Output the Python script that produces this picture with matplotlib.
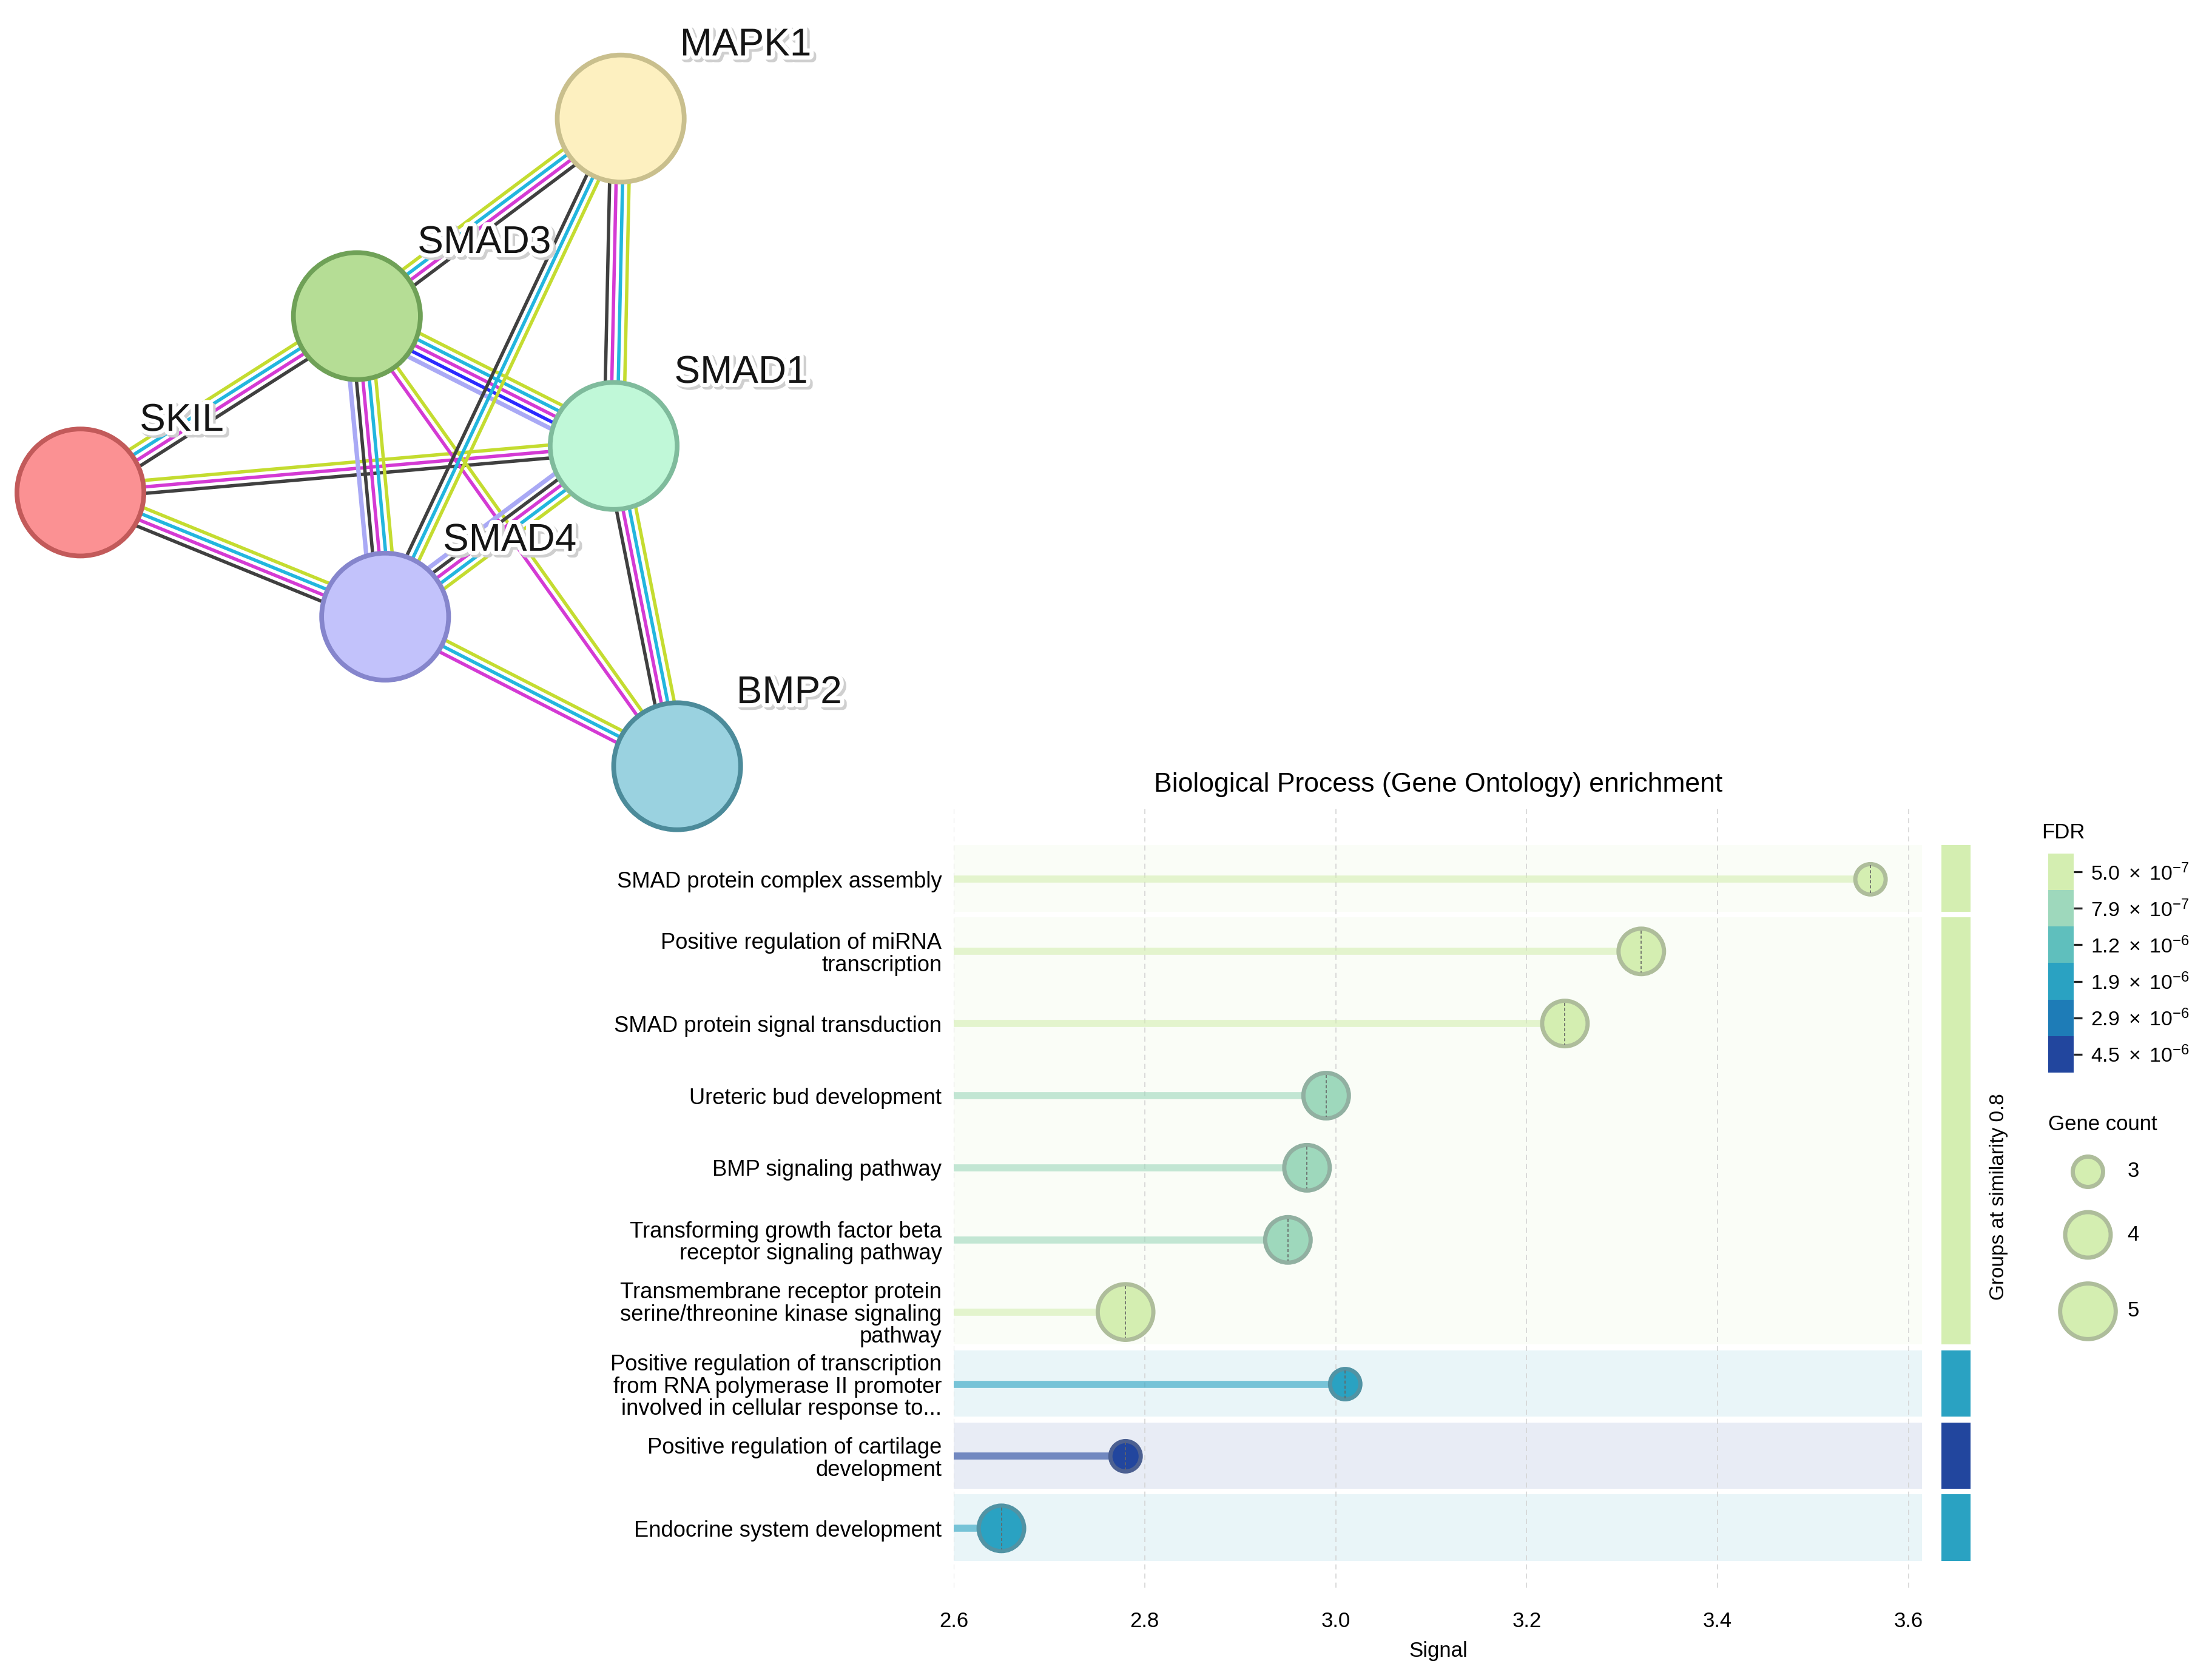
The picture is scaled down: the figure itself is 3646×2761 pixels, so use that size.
import numpy as np
import matplotlib
matplotlib.use("Agg")
import matplotlib.pyplot as plt
import matplotlib.patheffects as pe
from matplotlib.patches import Circle
from matplotlib.colors import ListedColormap, to_rgb

plt.rcParams["font.family"] = ["Liberation Sans", "DejaVu Sans"]
plt.rcParams["mathtext.fontset"] = "custom"
plt.rcParams["mathtext.rm"] = "Liberation Sans"
plt.rcParams["mathtext.it"] = "Liberation Sans:italic"
plt.rcParams["mathtext.bf"] = "Liberation Sans:bold"

#%% Datos: enriquecimiento GO
terms = [
    "SMAD protein complex assembly",
    "Positive regulation of miRNA\ntranscription",
    "SMAD protein signal transduction",
    "Ureteric bud development",
    "BMP signaling pathway",
    "Transforming growth factor beta\nreceptor signaling pathway",
    "Transmembrane receptor protein\nserine/threonine kinase signaling\npathway",
    "Positive regulation of transcription\nfrom RNA polymerase II promoter\ninvolved in cellular response to...",
    "Positive regulation of cartilage\ndevelopment",
    "Endocrine system development",
]
signal = [3.56, 3.32, 3.24, 2.99, 2.97, 2.95, 2.78, 3.01, 2.78, 2.65]
gene_count = [3, 4, 4, 4, 4, 4, 5, 3, 3, 4]
fdr_level = [0, 0, 0, 1, 1, 1, 0, 3, 5, 3]      # indice en la escala FDR
group = [0, 1, 1, 1, 1, 1, 1, 2, 3, 4]          # grupo de similitud
group_level = [0, 0, 3, 5, 3]                   # color de cada grupo

fdr_labels = [r"$\mathregular{5.0\ \times\ 10^{-7}}$",
              r"$\mathregular{7.9\ \times\ 10^{-7}}$",
              r"$\mathregular{1.2\ \times\ 10^{-6}}$",
              r"$\mathregular{1.9\ \times\ 10^{-6}}$",
              r"$\mathregular{2.9\ \times\ 10^{-6}}$",
              r"$\mathregular{4.5\ \times\ 10^{-6}}$"]
legend_counts = [3, 4, 5]
xticks = [2.6, 2.8, 3.0, 3.2, 3.4, 3.6]

#%% Datos: red STRING
proteins = ["MAPK1", "SMAD3", "SMAD1", "SKIL", "SMAD4", "BMP2"]
# y=textmining, c=databases, m=experiments, k=coexpression, b=cooccurrence, l=homology
links = [
    ("SKIL", "SMAD3", "ycmk"),
    ("SKIL", "SMAD1", "ymk"),
    ("SKIL", "SMAD4", "ycmk"),
    ("SMAD3", "MAPK1", "ycmk"),
    ("SMAD3", "SMAD1", "ycmbl"),
    ("SMAD3", "SMAD4", "ycmkl"),
    ("SMAD3", "BMP2", "ym"),
    ("MAPK1", "SMAD1", "ycmk"),
    ("MAPK1", "SMAD4", "yck"),
    ("SMAD1", "SMAD4", "ycmkl"),
    ("SMAD1", "BMP2", "ycmk"),
    ("SMAD4", "BMP2", "ycm"),
]

#%% Estilos y layout (coordenadas de referencia 1568x1187)
fdr_colors = ["#d4eeb1", "#9ed8bc", "#5fbfbd", "#2aa2c2", "#1e7cb7", "#22469e"]
size_pt = {3: 20.5, 4: 29.5, 5: 35.5}
channel_color = {"y": "#c4dc30", "c": "#22b6de", "m": "#d43ad4",
                 "k": "#404040", "b": "#2a2aff", "l": "#a9a9f5"}
node_xy = {"MAPK1": (440, 84), "SMAD3": (253, 224), "SMAD1": (435, 316),
           "SKIL": (57, 349), "SMAD4": (273, 437), "BMP2": (480, 543)}
label_xy = {"MAPK1": (482, 32), "SMAD3": (296, 172), "SMAD1": (478, 264),
            "SKIL": (99, 298), "SMAD4": (314, 383), "BMP2": (522, 491)}
node_fill = {"MAPK1": "#fdf0c0", "SMAD3": "#b5dd95", "SMAD1": "#c0f8d8",
             "SKIL": "#fb9193", "SMAD4": "#c2c2fb", "BMP2": "#9ad2e0"}
node_edge = {"MAPK1": "#c9bf8d", "SMAD3": "#6fa157", "SMAD1": "#7fbb9c",
             "SKIL": "#c25a5a", "SMAD4": "#8585cc", "BMP2": "#4c8b9a"}

RW, RH = 1568, 1187
def fx(x): return x / RW
def fy(y): return 1 - y / RH

def mix(c, other, t):
    a, b = np.array(to_rgb(c)), np.array(to_rgb(other))
    return tuple((1 - t) * a + t * b)

fig = plt.figure(figsize=(18.23, 13.805), dpi=200)

#%% Overlay (red + leyenda de tamanos)
ax_o = fig.add_axes([0, 0, 1, 1])
ax_o.set_xlim(0, RW)
ax_o.set_ylim(RH, 0)
ax_o.axis("off")

gap = 4.6
for a, b, chans in links:
    p, q = np.array(node_xy[a], float), np.array(node_xy[b], float)
    d = q - p
    n = np.array([-d[1], d[0]]) / np.hypot(*d)
    offs = (np.arange(len(chans)) - (len(chans) - 1) / 2) * gap
    for off, ch in zip(offs, chans):
        lw = 2.6 if ch == "l" else 2.0
        ax_o.plot([p[0] + n[0] * off, q[0] + n[0] * off],
                  [p[1] + n[1] * off, q[1] + n[1] * off],
                  color=channel_color[ch], lw=lw, solid_capstyle="butt", zorder=1)

for prot in proteins:
    ax_o.add_patch(Circle(node_xy[prot], 45, facecolor=node_fill[prot],
                          edgecolor=node_edge[prot], lw=2.8, zorder=3))
    ax_o.text(*label_xy[prot], prot, fontsize=23, color="#151515", ha="left", va="center",
              zorder=4,
              path_effects=[pe.Stroke(linewidth=5, foreground="#cfcfcf", offset=(1.5, -1.5)),
                            pe.Stroke(linewidth=5, foreground="white"), pe.Normal()])

# leyenda Gene count
ax_o.text(1452, 797, "Gene count", fontsize=12.5, ha="left", va="center")
for cnt, yy in zip(legend_counts, [830, 875, 929]):
    ax_o.scatter([1480], [yy], s=(size_pt[cnt] - 2.5) ** 2, color=fdr_colors[0],
                 edgecolors=[mix(fdr_colors[0], "#808080", 0.45)], linewidths=2.5, zorder=3)
    ax_o.text(1508, yy, str(cnt), fontsize=12.5, ha="left", va="center")

ax_o.text(1447, 590, "FDR", fontsize=12.5, ha="left", va="center")
ax_o.text(1417, 848, "Groups at similarity 0.8", fontsize=12, rotation=90,
          ha="center", va="center")

#%% Grafico principal
y_top, y_bot = -1.0, 9.82
ax = fig.add_axes([fx(676), fy(1125), fx(1363) - fx(676), fy(572) - fy(1125)])
ax.set_facecolor("none")
ax.set_xlim(2.6, 2.6 + (1363 - 676) / 677)
ax.set_ylim(y_bot, y_top)
rows = np.arange(len(terms))

for g in range(len(group_level)):
    idx = [i for i in rows if group[i] == g]
    ax.axhspan(min(idx) - 0.47, max(idx) + 0.45, xmin=0, xmax=0.999,
               color=fdr_colors[group_level[g]], alpha=0.1, lw=0, zorder=0.2)

cols = [fdr_colors[k] for k in fdr_level]
ax.hlines(rows, 2.6, signal, colors=cols, alpha=0.6, lw=4.2, zorder=2)
ax.scatter(signal, rows, s=[(size_pt[c] - 2.5) ** 2 for c in gene_count], c=cols,
           edgecolors=[mix(c, "#808080", 0.45) for c in cols], linewidths=2.5, zorder=3)

# linea discontinua dentro de cada punto
row_px = (fy(572) - fy(1125)) * 2761 / (y_bot - y_top)
for x, r, c in zip(signal, rows, gene_count):
    h = (size_pt[c] - 2.5) / 2 * (200 / 72) / row_px * 0.92
    ax.vlines(x, r - h, r + h, colors="#666666", lw=0.6, linestyles=(0, (3, 2)), zorder=4)

ax.set_xticks(xticks)
ax.set_xticklabels([f"{t:.1f}" for t in xticks], fontsize=12.5)
ax.set_yticks(rows)
ax.set_yticklabels(terms, fontsize=13.1, linespacing=1.05)
ax.tick_params(length=0)
ax.tick_params(axis="x", pad=14)
ax.tick_params(axis="y", pad=7)
ax.grid(axis="x", linestyle=(0, (5, 4)), color="#d4d4d4", lw=0.6, zorder=0.5)
ax.set_axisbelow(True)
for s in ax.spines.values():
    s.set_visible(False)
ax.set_xlabel("Signal", fontsize=12.5, labelpad=6)
ax.set_title("Biological Process (Gene Ontology) enrichment", fontsize=16, pad=9)

# barras de grupo
ax_g = fig.add_axes([fx(1376), fy(1125), fx(1397) - fx(1376), fy(572) - fy(1125)])
ax_g.set_ylim(y_bot, y_top)
ax_g.set_xlim(0, 1)
ax_g.axis("off")
for g in range(len(group_level)):
    idx = [i for i in rows if group[i] == g]
    ax_g.axhspan(min(idx) - 0.47, max(idx) + 0.45, color=fdr_colors[group_level[g]], lw=0)

# escala FDR
ax_c = fig.add_axes([fx(1452), fy(760), fx(1470) - fx(1452), fy(605) - fy(760)])
ax_c.imshow(np.arange(len(fdr_colors))[:, None], cmap=ListedColormap(fdr_colors),
            aspect="auto", interpolation="nearest")
ax_c.set_xticks([])
ax_c.yaxis.tick_right()
ax_c.set_yticks(range(len(fdr_labels)))
ax_c.set_yticklabels(fdr_labels, fontsize=12.2)
ax_c.tick_params(axis="y", length=5, width=1.2, color="#222222", pad=5)
for s in ax_c.spines.values():
    s.set_visible(False)

fig.savefig("out.png", dpi=200)
